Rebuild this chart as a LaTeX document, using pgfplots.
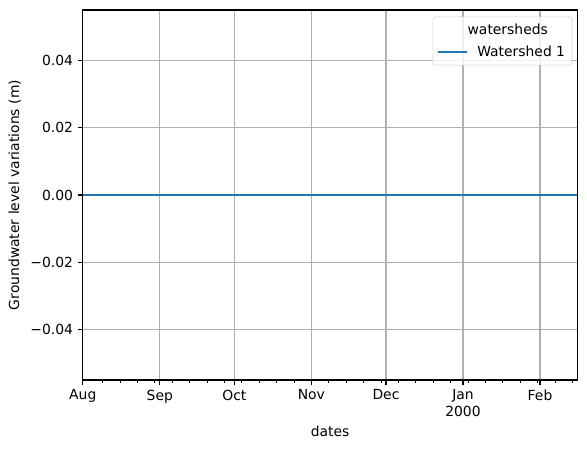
\documentclass[border=0pt]{standalone}
\usepackage{fontspec}
\setmainfont{DejaVu Sans}
\usepackage{pgfplots}
\pgfplotsset{compat=1.18}
\definecolor{tabblue}{HTML}{1F77B4}
\pgfplotsset{mplline/.style={legend image code/.code={\draw[#1] (0pt,0pt) -- (21pt,0pt);}}}
\begin{document}
\begin{tikzpicture}
\begin{axis}[
  scale only axis, width=356pt, height=266.4pt,
  xmin=0, xmax=199, ymin=-0.055, ymax=0.055,
  xtick={0,31,61,92,122,153,184},
  xticklabels={Aug,Sep,Oct,Nov,Dec,{Jan\\2000},Feb},
  x tick label style={align=center},
  minor xtick={8,15,...,197},
  ytick={-0.04,-0.02,0,0.02,0.04},
  yticklabels={−0.04,−0.02,0.00,0.02,0.04},
  grid=major, major grid style={color=black!31, line width=0.8pt},
  tick align=outside, tick pos=left,
  major tick length=3.5pt, minor tick length=2pt,
  major tick style={black, line width=0.8pt},
  minor tick style={black, line width=0.6pt},
  axis line style={line width=0.8pt},
  xlabel={dates}, ylabel={Groundwater level variations (m)},
  legend style={at={(rel axis cs:1,1)}, anchor=north east, xshift=-3.6pt, yshift=-4.8pt,
    draw=black!18, rounded corners=2pt, fill=white, fill opacity=0.8, text opacity=1,
    font=\fontsize{10}{12}\selectfont, column sep=4.5pt, row sep=2.5pt,
    inner xsep=3pt, inner ysep=3pt},
  legend cell align=left,
]
\addlegendimage{empty legend}
\addlegendentry{\hspace*{-7pt}watersheds}
\addplot[tabblue, line width=1.5pt, mplline] coordinates {(0,0) (50,0) (100,0) (150,0) (199,0)};
\addlegendentry{Watershed 1}
\coordinate (bl) at (rel axis cs:-0.1674,-0.1865);
\coordinate (tr) at (rel axis cs:1.0196,1.027);
\end{axis}
\pgfresetboundingbox
\path (bl) rectangle (tr);
\end{tikzpicture}
\end{document}
